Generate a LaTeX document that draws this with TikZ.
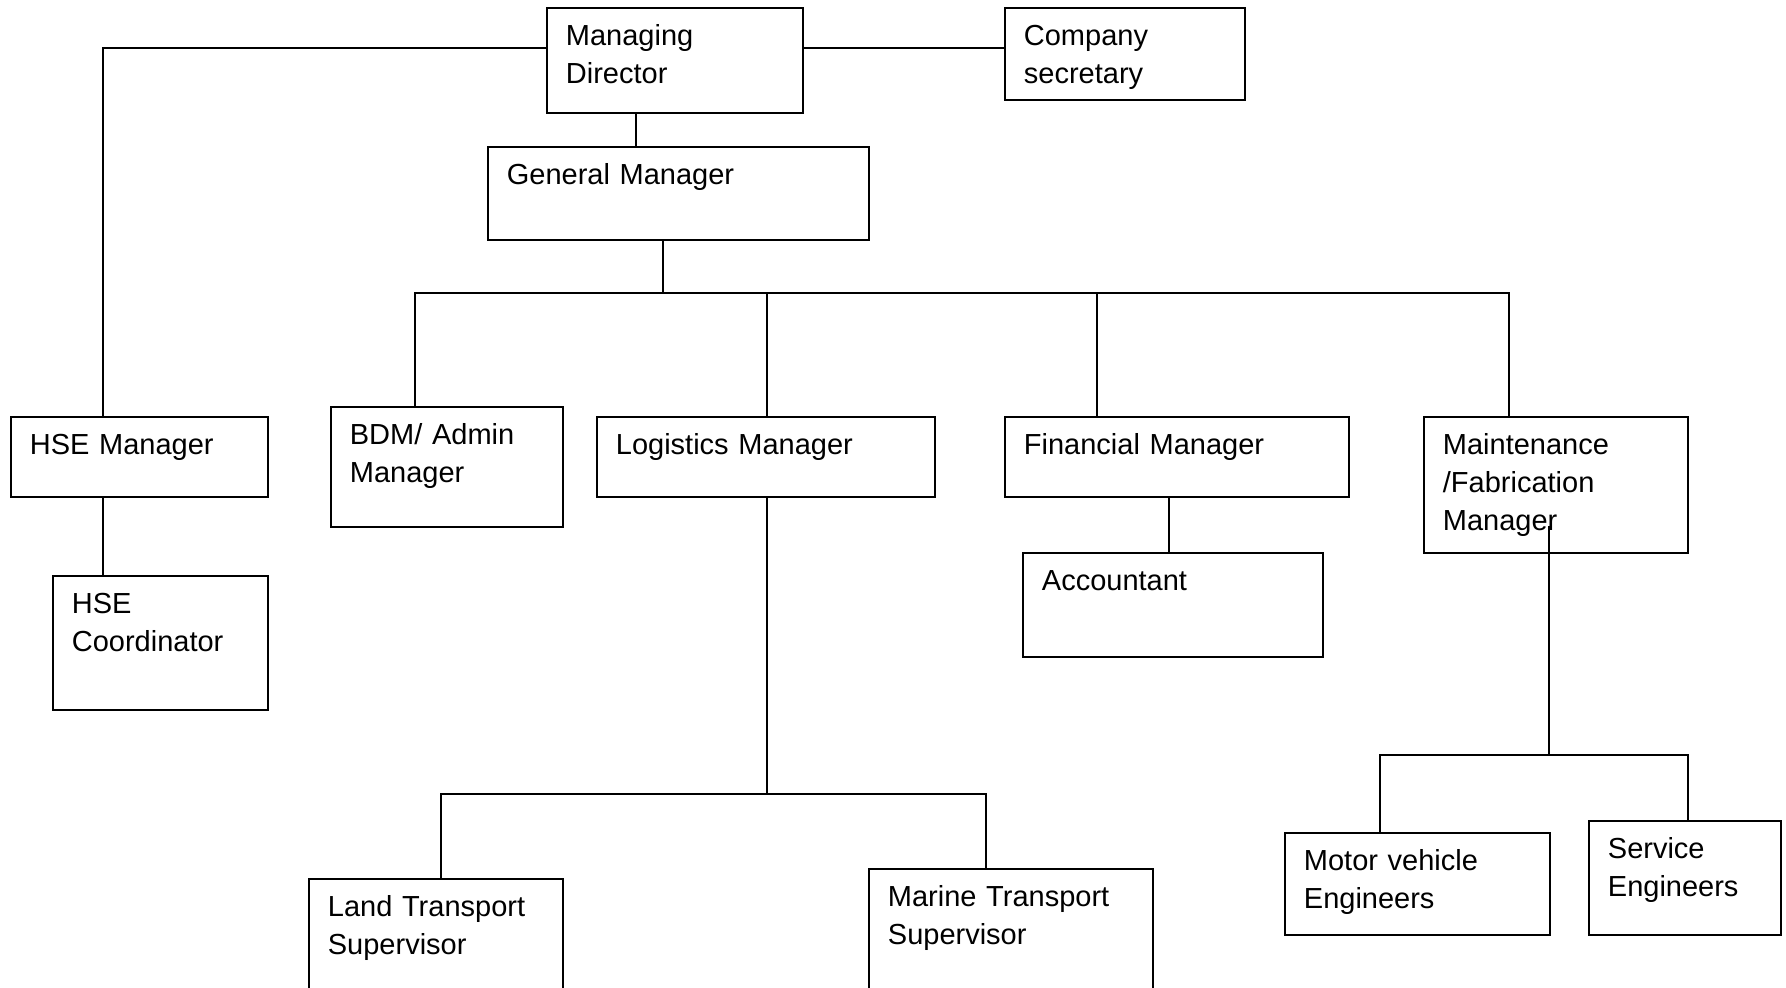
\documentclass[tikz,border=0pt]{standalone}
\usepackage{fontspec}
\setmainfont{Liberation Sans}
\usetikzlibrary{calc}
\tikzstyle{post}=[draw, line width=0.9pt, anchor=north west, inner xsep=9.5pt, inner ysep=8.5pt, text height=10.5pt, align=left, font=\fontsize{14.5}{19}\selectfont]
\tikzstyle{link}=[line width=0.65pt]
% box width and height given in the picture's units
\tikzset{boxsize/.style 2 args={text width=#1*0.5pt-19pt, text depth=#2*0.5pt-27.5pt}}

\begin{document}
\begin{tikzpicture}[x=0.5pt, y=-0.5pt]
\useasboundingbox (0,0) rectangle (1786,988);

% top
\node[post, boxsize={256}{105}] (md) at (546,7) {Managing\\Director};
\node[post, boxsize={240}{92}] (cs) at (1004,7) {Company\\secretary};
\node[post, boxsize={381}{93}] (gm) at (487,146) {General Manager};

% managers
\node[post, boxsize={257}{80}] (hse) at (10,416) {HSE Manager};
\node[post, boxsize={232}{120}] (bdm) at (330,406) {BDM/ Admin\\Manager};
\node[post, boxsize={338}{80}] (log) at (596,416) {Logistics Manager};
\node[post, boxsize={344}{80}] (fin) at (1004,416) {Financial Manager};
\node[post, boxsize={264}{136}] (mnt) at (1423,416) {Maintenance\\/Fabrication\\Manager};

% staff
\node[post, boxsize={215}{134}] (hsec) at (52,575) {HSE\\Coordinator};
\node[post, boxsize={300}{104}] (acc) at (1022,552) {Accountant};
\node[post, boxsize={254}{150}] (land) at (308,878) {Land Transport\\Supervisor};
\node[post, boxsize={284}{160}] (mar) at (868,868) {Marine Transport\\Supervisor};
\node[post, boxsize={265}{102}] (mve) at (1284,832) {Motor vehicle\\Engineers};
\node[post, boxsize={192}{114}] (srv) at (1588,820) {Service\\Engineers};

% lines
\draw[link] (md.east |- 0,48) -- (cs.west |- 0,48);
\draw[link] (md.west |- 0,48) -| (hse.north -| 103,0);
\draw[link] (hse.south -| 103,0) -- (hsec.north -| 103,0);
\draw[link] (md.south -| 636,0) -- (gm.north -| 636,0);
\draw[link] (gm.south -| 663,0) -- (663,293);
\draw[link] (bdm.north -| 415,0) -- (415,293) -- (1509,293) -- (mnt.north -| 1509,0);
\draw[link] (log.north -| 767,0) -- (767,293);
\draw[link] (fin.north -| 1097,0) -- (1097,293);
\draw[link] (fin.south -| 1169,0) -- (acc.north -| 1169,0);
\draw[link] (log.south -| 767,0) -- (767,794);
\draw[link] (land.north -| 441,0) -- (441,794) -- (986,794) -- (mar.north -| 986,0);
\draw[link] ($(mnt.south -| 1549,0)+(0,-28)$) -- (1549,755);
\draw[link] (mve.north -| 1380,0) -- (1380,755) -- (1688,755) -- (srv.north -| 1688,0);
\end{tikzpicture}
\end{document}
